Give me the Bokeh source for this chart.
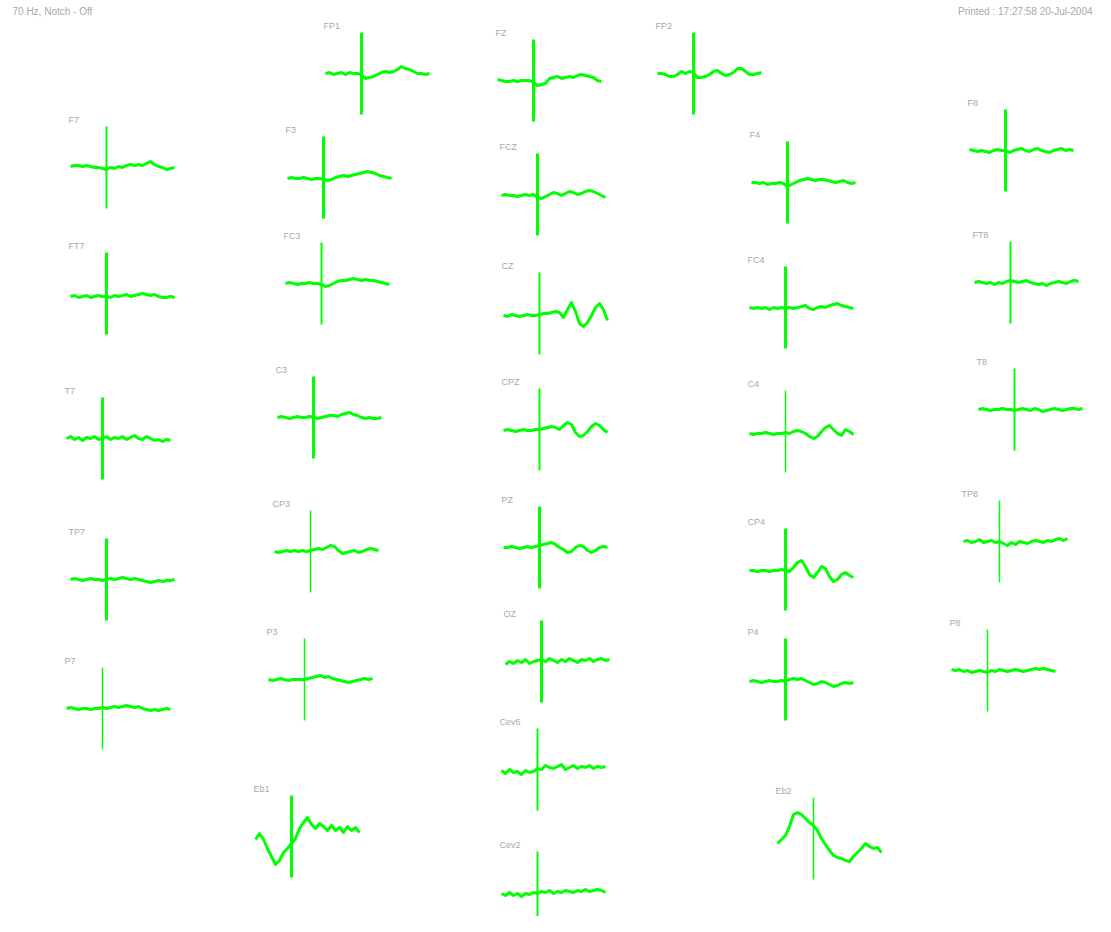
from bokeh.plotting import figure
from bokeh.models import ColumnDataSource, Range1d
from bokeh.core.properties import value
from bokeh.embed import file_html
from bokeh.resources import INLINE

# ---------------- DATA ----------------
TIME_MS = [-90, -80, -70, -60, -50, -40, -30, -20, -10, 0, 10, 20, 30, 40, 50,
           60, 70, 80, 90, 100, 110, 120, 130, 140, 150, 160, 170]

CHANNELS = ["FP1", "FZ", "FP2", "F7", "F3", "FCZ", "F4", "F8", "FT7", "FC3", "CZ",
            "FC4", "FT8", "T7", "C3", "CPZ", "C4", "T8", "TP7", "CP3", "PZ", "CP4",
            "TP8", "P7", "P3", "OZ", "P4", "P8", "Cev6", "Eb1", "Eb2", "Cev2"]

FP1 = [0, 1, -1, 0, 1, -1, 1, 0, 0, -1, -5, -4, -3, -1, 1, 2, 1, 2, 4, 7, 5, 4, 2, 0, 0, -1, 0]
FZ = [1, 0, -1, -1, 0, -1, 0, 0, 0, -2, -5, -4, -3, 2, 3, 4, 2, 3, 4, 3, 5, 6, 5, 4, 3, 0, -1]
FP2 = [0, 0, -1, -3, -3, -1, 2, 0, 2, 1, -4, -4, -3, -1, 2, 3, 0, -2, -1, 1, 5, 5, 2, -1, -1, 0, 1]
F7 = [1, 2, 2, 1, 2, 1, 0, 0, -1, -2, 0, -1, 1, 0, 2, 3, 2, 3, 2, 4, 6, 3, 1, 0, -2, -1, 0]
F3 = [-1, 0, -1, -1, 0, -1, -2, -1, -1, -2, -3, -2, 0, 1, 2, 1, 2, 3, 4, 5, 6, 5, 4, 2, 1, 0, -1]
FCZ = [-1, 0, -1, -1, -2, -1, 0, -1, 0, -3, -4, -2, 0, 2, 1, -1, 1, 3, 2, 0, 1, 3, 4, 3, 1, -1, -3]
F4 = [0, 0, -1, 0, -2, -1, -1, 0, -1, -4, -2, 0, 2, 3, 4, 3, 2, 3, 3, 2, 1, 0, 1, 2, 0, -1, 0]
F8 = [1, 0, -1, 0, -1, -2, 0, 1, 0, 0, -2, 0, 1, 2, 0, -1, 1, 2, 0, -1, -2, 0, 1, 2, 0, 1, 0]
FT7 = [-3, -2, -4, -3, -2, -4, -3, -2, -3, -3, -4, -2, -3, -2, -1, -3, -2, -1, 0, -1, -2, -1, -3, -4, -4, -3, -4]
FC3 = [0, 1, 0, -1, 0, 0, 1, 0, 0, -1, -3, -2, 0, 2, 3, 3, 4, 5, 4, 3, 4, 3, 3, 2, 1, 0, -1]
CZ = [-2, -3, -1, -2, -3, -2, -1, -2, -2, -1, 0, 0, 1, 2, 1, -4, 4, 11, 2, -10, -13, -9, -2, 6, 10, 4, -7]
FC4 = [0, -1, 0, -1, 0, -2, 0, -1, 0, -1, 0, -1, 0, 1, 2, -1, -2, 0, 1, 0, 2, 3, 4, 2, 1, 0, -1]
FT8 = [0, 1, 0, -1, 0, -2, 0, -1, 1, 2, 1, 0, 1, 2, 0, -1, -2, -1, -3, -1, 0, 1, 0, -1, 1, 2, 1]
T7 = [0, 2, -1, 1, -2, 1, 0, 2, -1, 0, 2, -1, 1, 0, 2, -1, 1, 3, 0, -1, 2, 0, -2, -1, -3, -1, -2]
C3 = [0, 1, 0, -1, 0, 1, 0, 0, 1, 0, -1, 0, 1, 2, 2, 1, 3, 4, 5, 3, 2, 0, -1, 0, -1, -1, 0]
CPZ = [-1, 0, -1, -2, -1, 0, -1, -1, 0, 0, 1, 2, 3, 2, 0, 4, 7, 5, -3, -7, -6, -2, 3, 6, 4, 0, -3]
C4 = [-2, -3, -2, -2, -1, -2, -3, -2, -2, -1, -2, 0, 1, 0, -2, -5, -7, -5, 0, 4, 6, 2, -2, -4, 2, 0, -3]
T8 = [0, 1, 0, -1, 0, 0, 1, 0, 0, -1, 0, 1, 0, -1, 1, 0, -2, -1, 0, 1, 0, -1, 0, 1, 1, 0, 1]
TP7 = [0, 1, 0, -1, 0, 1, 0, 0, -1, 0, 1, 0, 1, 2, 1, 0, 1, 0, -1, -2, -3, -2, -1, -2, -1, -1, 0]
CP3 = [0, -1, 0, 1, 0, 1, 0, 1, 0, 1, 2, 3, 2, 4, 6, 5, 1, -2, -1, 0, 1, -1, 0, 2, 3, 2, 1]
PZ = [0, 0, 1, 0, -1, 0, 1, 0, 1, 2, 3, 4, 5, 3, 0, -2, -5, -4, 0, 2, 1, -3, -5, -3, 0, 1, 0]
CP4 = [-1, -1, -2, -1, -1, -2, -1, -1, 0, -1, -2, 2, 7, 9, 3, -5, -8, -3, 3, 1, -7, -12, -10, -5, -3, -6, -8]
TP8 = [0, 1, -1, 0, 2, -1, 0, 1, -1, 0, -2, -4, -1, -3, 0, -1, -2, 0, 1, 0, -1, 1, 0, 2, 3, 1, 3]
P7 = [0, 1, 0, -1, 0, 0, -1, 0, 0, 1, 0, 1, 2, 1, 2, 3, 2, 1, 2, 0, -1, -2, -1, -2, -1, 0, -1]
P3 = [0, -1, 0, 1, 0, -1, 0, 0, 0, 0, 1, 2, 3, 4, 2, 3, 1, 0, -1, -2, -3, -2, -1, 0, 1, 0, 1]
OZ = [-3, 0, -2, 1, -1, 2, -2, 0, 1, 2, 0, 3, 1, -1, 2, 0, 3, 1, -1, 2, 1, 3, 0, 2, 3, 1, 2]
P4 = [-2, -1, -2, -3, -2, -1, -2, -2, -1, -2, 0, 1, 0, 1, -1, -3, -5, -4, -2, -3, -5, -7, -6, -4, -3, -4, -3]
P8 = [1, 0, 1, -1, 0, -2, -1, 0, -1, -2, 0, -1, 1, 0, -1, 0, 1, 0, -1, 0, 1, 2, 1, 2, 1, 0, -1]
Cev6 = [-1, -4, 0, -3, -2, -5, -1, -3, -2, 1, 0, 4, 2, 1, 3, 5, 0, 2, 4, 1, 3, 2, 4, 1, 3, 2, 3]
Eb1 = [-3, 3, -3, -12, -20, -28, -24, -16, -12, -7, -2, 8, 14, 19, 12, 8, 13, 10, 6, 11, 6, 9, 4, 10, 6, 9, 4]
Eb2 = [-5, -1, 3, 12, 24, 26, 24, 20, 16, 13, 8, 0, -6, -12, -17, -19, -20, -22, -23, -18, -14, -10, -5, -8, -10, -9, -14]
Cev2 = [-1, -3, 0, -3, -1, -4, -1, -2, 0, -1, 1, 0, 2, -1, 1, 0, 2, 1, 0, 2, 1, 3, 1, 2, 3, 2, 0]

HEADER_LEFT = "70 Hz, Notch - Off"
HEADER_RIGHT = "Printed : 17:27:58 20-Jul-2004"

# ---------------- LAYOUT (screen placement of each mini-plot) ----------------
LAYOUT = {
    "FP1": (325, 73, 3), "FZ": (497, 80, 3), "FP2": (657, 73, 3),
    "F7": (70, 167, 2), "F3": (287, 177, 3), "FCZ": (501, 194, 3),
    "F4": (751, 182, 3), "F8": (969, 150, 3),
    "FT7": (70, 293, 3), "FC3": (285, 283, 2), "CZ": (503, 313, 2),
    "FC4": (749, 307, 3), "FT8": (974, 282, 2),
    "T7": (66, 438, 3), "C3": (277, 417, 3), "CPZ": (503, 429, 2),
    "C4": (749, 431, 1.5), "T8": (978, 409, 2),
    "TP7": (70, 579, 3), "CP3": (274, 551, 1.5), "PZ": (503, 547, 3),
    "CP4": (749, 569, 3), "TP8": (963, 541, 1.5),
    "P7": (66, 708, 1.5), "P3": (268, 679, 1.5), "OZ": (505, 661, 3),
    "P4": (749, 679, 3), "P8": (951, 670, 1.5),
    "Cev6": (501, 769, 2), "Eb1": (255, 836, 3), "Eb2": (777, 838, 1.5),
    "Cev2": (501, 892, 2),
}
PX_PER_MS = 0.4
PX_PER_UV = 1.0
AXIS_HALF = 41

DATA = {"FP1": FP1, "FZ": FZ, "FP2": FP2, "F7": F7, "F3": F3, "FCZ": FCZ, "F4": F4,
        "F8": F8, "FT7": FT7, "FC3": FC3, "CZ": CZ, "FC4": FC4, "FT8": FT8, "T7": T7,
        "C3": C3, "CPZ": CPZ, "C4": C4, "T8": T8, "TP7": TP7, "CP3": CP3, "PZ": PZ,
        "CP4": CP4, "TP8": TP8, "P7": P7, "P3": P3, "OZ": OZ, "P4": P4, "P8": P8,
        "Cev6": Cev6, "Eb1": Eb1, "Eb2": Eb2, "Cev2": Cev2}

GREEN = "#00ff00"
GRAY = "#a8a8a8"

p = figure(width=1095, height=916, output_backend="svg", toolbar_location=None,
           x_range=Range1d(0, 1095), y_range=Range1d(916, 0),
           min_border=0, outline_line_color=None)
p.axis.visible = False
p.grid.visible = False
p.background_fill_color = "white"

xs, ys = [], []
ax_x0, ax_y0, ax_y1, ax_w = [], [], [], []
lab_x, lab_y, lab_t = [], [], []
t0 = TIME_MS[0]
for ch in CHANNELS:
    left, base, w = LAYOUT[ch]
    vals = DATA[ch]
    xs.append([left + (t - t0) * PX_PER_MS for t in TIME_MS])
    ys.append([base - v * PX_PER_UV for v in vals])
    zx = left + (0 - t0) * PX_PER_MS
    ax_x0.append(zx)
    ax_y0.append(base - AXIS_HALF)
    ax_y1.append(base + AXIS_HALF)
    ax_w.append(w)
    lab_x.append(left - 2)
    lab_y.append(base - AXIS_HALF - 7)
    lab_t.append(ch)

p.segment(x0="x", y0="y0", x1="x", y1="y1", line_width="w", line_color=GREEN,
          source=ColumnDataSource(dict(x=ax_x0, y0=ax_y0, y1=ax_y1, w=ax_w)))
p.multi_line(xs=xs, ys=ys, line_color=GREEN, line_width=3, line_join="round")

p.text(x="x", y="y", text="t", source=ColumnDataSource(dict(x=lab_x, y=lab_y, t=lab_t)),
       text_font=value("Liberation Sans"), text_font_size="9px", text_color=GRAY,
       text_baseline="middle", text_align="left")

p.text(x=[12], y=[11], text=[HEADER_LEFT], text_font=value("Liberation Sans"),
       text_font_size="10px", text_color=GRAY, text_baseline="middle", text_align="left")
p.text(x=[1092], y=[11], text=[HEADER_RIGHT], text_font=value("Liberation Sans"),
       text_font_size="10px", text_color=GRAY, text_baseline="middle", text_align="right")

open("out.html", "w").write(file_html(p, INLINE))
